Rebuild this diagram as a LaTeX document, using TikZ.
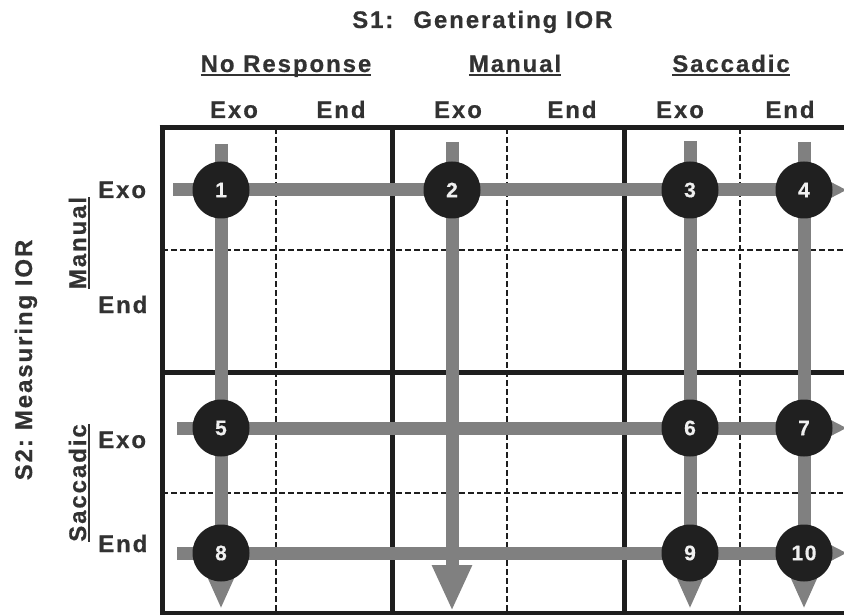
\documentclass[tikz,border=0pt]{standalone}
\usepackage{fontspec}
\setmainfont{Liberation Sans}[LetterSpace=8, BoldFeatures={FakeBold=0.5}]
\usetikzlibrary{arrows.meta}
\definecolor{ink}{RGB}{50,50,50}
\definecolor{gridc}{RGB}{30,30,30}
\definecolor{barc}{RGB}{128,128,128}
\definecolor{disc}{RGB}{32,32,32}
\newcommand\ulbox[1]{\setbox0\hbox{#1}\rlap{\rule[-3.8pt]{\wd0}{2pt}}\box0}
\pgfdeclarelayer{gridlayer}
\pgfdeclarelayer{barlayer}
\pgfsetlayers{gridlayer,barlayer,main}
\tikzset{
  thickline/.style={draw=gridc, line width=5pt},
  dashline/.style={draw=gridc, line width=1.3pt, dash pattern=on 6pt off 3pt},
  bar/.style={draw=barc, line width=13pt},
  downtip/.style={-{Triangle[width=28pt,length=36pt]}},
  bigtip/.style={-{Triangle[width=37pt,length=46pt]}},
  righttip/.style={-{Triangle[width=26pt,length=28pt]}},
  num/.style={circle, fill=disc, minimum size=57pt, inner sep=0pt, text=white!94!black,
    font=\bfseries\fontsize{21}{21}\selectfont},
  lab/.style={text=ink, inner sep=0pt, font=\bfseries\fontsize{24}{28}\selectfont}
}
\begin{document}
\begin{tikzpicture}[x=1pt,y=-1pt]
\useasboundingbox (0,0) rectangle (844,615);

% circles
\node[num] (n1) at (221,190) {1};
\node[num] (n2) at (452,190) {2};
\node[num] (n3) at (690,190) {3};
\node[num] (n4) at (804,190) {4};
\node[num] (n5) at (221,428) {5};
\node[num] (n6) at (690,428) {6};
\node[num] (n7) at (804,428) {7};
\node[num] (n8) at (221,553) {8};
\node[num] (n9) at (690,553) {9};
\node[num] (n10) at (804,553) {10};

% bar end coordinates
\coordinate (t1) at (221,144);
\coordinate (t2) at (452,142);
\coordinate (t3) at (690,141);
\coordinate (t4) at (804,142);
\coordinate (b1) at (221,609);
\coordinate (b2) at (452,611);
\coordinate (b3) at (690,609);
\coordinate (b4) at (804,609);
\coordinate (l1) at (173,190);
\coordinate (l2) at (177,428);
\coordinate (l3) at (177,553);
\coordinate (r1) at (847,190);
\coordinate (r2) at (847,428);
\coordinate (r3) at (847,553);

% grid
\begin{pgfonlayer}{gridlayer}
  \draw[dashline] (276,128) -- (276,613);
  \draw[dashline] (507,128) -- (507,613);
  \draw[dashline] (740,128) -- (740,613);
  \draw[dashline] (162,250) -- (844,250);
  \draw[dashline] (162,493) -- (844,493);
  \draw[thickline] (162,125.5) -- (162,616);
  \draw[thickline] (392,128) -- (392,616);
  \draw[thickline] (624,128) -- (624,616);
  \draw[thickline] (159.5,128) -- (846,128);
  \draw[thickline] (162,372) -- (846,372);
  \draw[thickline] (162,613) -- (846,613);
\end{pgfonlayer}

% bars
\begin{pgfonlayer}{barlayer}
  \draw[bar, righttip] (l1) -- (n1.center) -- (n2.center) -- (n3.center) -- (n4.center) -- (r1);
  \draw[bar, righttip] (l2) -- (n5.center) -- (n6.center) -- (n7.center) -- (r2);
  \draw[bar, righttip] (l3) -- (n8.center) -- (n9.center) -- (n10.center) -- (r3);
  \draw[bar, downtip] (t1) -- (n1.center) -- (n5.center) -- (n8.center) -- (b1);
  \draw[bar, bigtip] (t2) -- (n2.center) -- (b2);
  \draw[bar, downtip] (t3) -- (n3.center) -- (n6.center) -- (n9.center) -- (b3);
  \draw[bar, downtip] (t4) -- (n4.center) -- (n7.center) -- (n10.center) -- (b4);
\end{pgfonlayer}

% top labels
\node[lab, anchor=base west] (title) at (352,28) {S1:\hspace{20pt}Generating IOR};
\node[lab, anchor=base] (gNR) at (286,72) {\ulbox{No Response}};
\node[lab, anchor=base] (gMa) at (515,72) {\ulbox{Manual}};
\node[lab, anchor=base] (gSa) at (731,72) {\ulbox{Saccadic}};
\node[lab, anchor=base] (h1) at (234,118) {Exo};
\node[lab, anchor=base] (h2) at (341,118) {End};
\node[lab, anchor=base] (h3) at (458,118) {Exo};
\node[lab, anchor=base] (h4) at (572,118) {End};
\node[lab, anchor=base] (h5) at (680,118) {Exo};
\node[lab, anchor=base] (h6) at (790,118) {End};

% left labels
\node[lab, rotate=90, anchor=base] (s2) at (32,360) {S2:\hspace{9pt}Measuring IOR};
\node[lab, rotate=90, anchor=base] (vMa) at (86,243) {\ulbox{Manual}};
\node[lab, rotate=90, anchor=base] (vSa) at (86,483) {\ulbox{Saccadic}};
\node[lab, anchor=base west] (v1) at (98,198) {Exo};
\node[lab, anchor=base west] (v2) at (98,313) {End};
\node[lab, anchor=base west] (v3) at (98,448) {Exo};
\node[lab, anchor=base west] (v4) at (98,552) {End};
\end{tikzpicture}
\end{document}
